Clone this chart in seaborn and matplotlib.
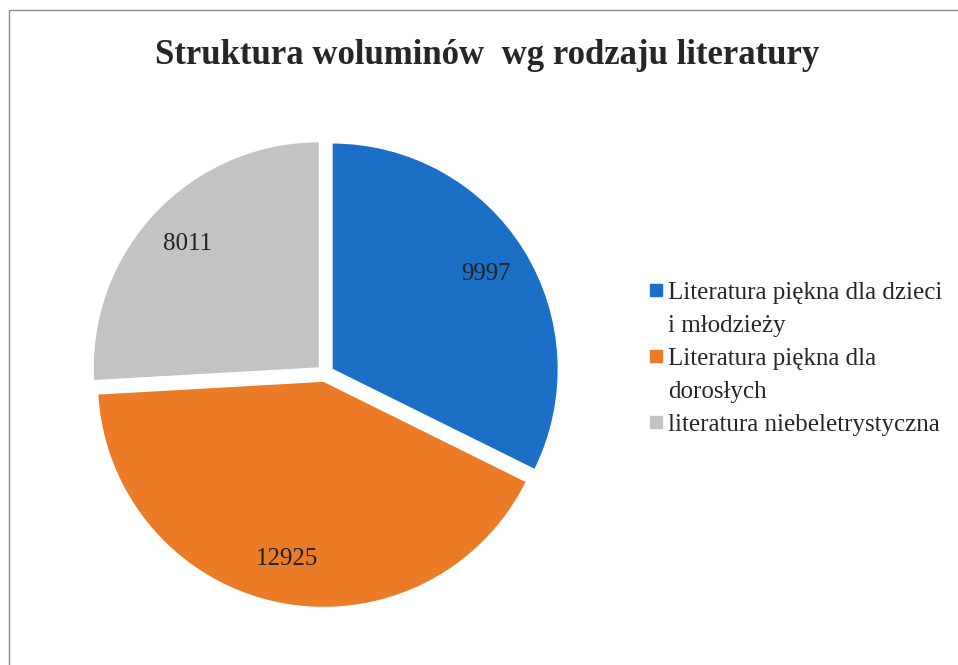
import numpy as np
import pandas as pd
import seaborn as sns
import matplotlib.pyplot as plt
from matplotlib.lines import Line2D
from matplotlib.patches import Rectangle

categories = ['Literatura piękna dla dzieci\ni młodzieży',
              'Literatura piękna dla\ndorosłych',
              'literatura niebeletrystyczna']
volumes = [9997, 12925, 8011]
colors = ['#1b6fc6', '#ec7b27', '#c3c3c3']

df = pd.DataFrame({'kategoria': categories, 'woluminy': volumes})

sns.set_theme(style='white')
plt.rcParams['font.family'] = ['Liberation Serif', 'DejaVu Serif']

fig = plt.figure(figsize=(9.58, 6.65), dpi=100)
fig.patch.set_facecolor('white')

# ramka wykresu jak w Excelu
fig.add_artist(Rectangle((0.009, -0.01), 1.2, 0.995, transform=fig.transFigure,
                         fill=False, edgecolor='#8a8a8a', linewidth=1.0))

fig.text(0.509, 0.916, 'Struktura woluminów  wg rodzaju literatury',
         ha='center', va='center', fontsize=25, fontweight='bold')

ax = fig.add_axes([0.0435, 0.013, 0.592, 0.851])
wedges, texts, autotexts = ax.pie(
    df['woluminy'], colors=colors, startangle=90, counterclock=False,
    explode=[0.035, 0.035, 0.035],
    autopct=lambda p: '%d' % round(p * sum(volumes) / 100),
    pctdistance=0.8, textprops={'fontsize': 18, 'color': '#222222'})
ax.set_aspect('equal')

# legenda: znacznik przy pierwszej linii opisu (jak w Excelu)
handles, labels = [], []
for name, c in zip(df['kategoria'], colors):
    for i, line in enumerate(name.split('\n')):
        if i == 0:
            handles.append(Line2D([0], [0], marker='s', linestyle='', markersize=9,
                                  markerfacecolor=c, markeredgecolor=c))
        else:
            handles.append(Line2D([0], [0], linestyle='', marker=None))
        labels.append(line)
leg = fig.legend(handles, labels, loc='center left',
                 bbox_to_anchor=(0.648, 0.461), frameon=False, fontsize=18,
                 handletextpad=0.0, labelspacing=0.42, handlelength=1.0)

plt.savefig('out.png', dpi=100)
